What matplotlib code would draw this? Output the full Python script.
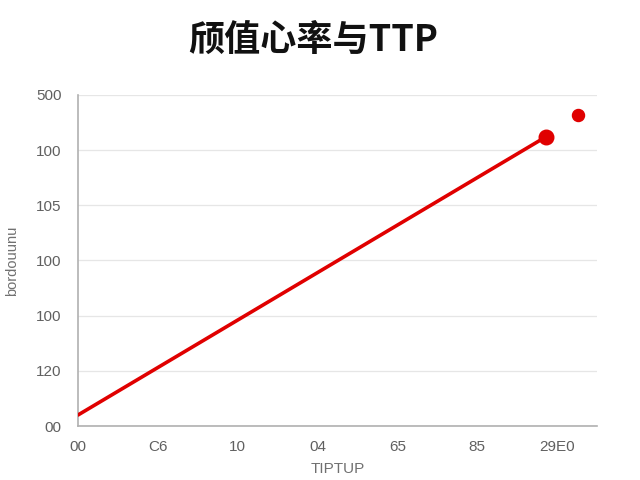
import matplotlib
matplotlib.use('Agg')
import matplotlib.pyplot as plt

plt.rcParams['font.family'] = ['Liberation Sans', 'Noto Sans CJK SC', 'DejaVu Sans']

# data (tick positions are in tick-index units)
x_tick_labels = ['00', 'C6', '10', '04', '65', '85', '29E0']
y_tick_labels = ['00', '120', '100', '100', '105', '100', '500']
line_x = [0.0, 5.86]
line_y = [0.2, 5.24]
extra_x = [6.26]
extra_y = [5.63]

RED = '#e00000'

fig = plt.figure(figsize=(6.4, 4.8), dpi=100)
ax = fig.add_axes([0.122, 0.1125, 0.811, 0.69])

ax.plot(line_x, line_y, color=RED, lw=2.6, solid_capstyle='round', zorder=3)
ax.scatter([line_x[-1]], [line_y[-1]], s=110, color=RED, zorder=4)
ax.scatter(extra_x, extra_y, s=75, color=RED, zorder=4)

ax.set_xlim(0, 6.5)
ax.set_ylim(0, 6)
ax.set_xticks(range(len(x_tick_labels)))
ax.set_xticklabels(x_tick_labels)
ax.set_yticks(range(len(y_tick_labels)))
ax.set_yticklabels(y_tick_labels)

ax.grid(axis='y', color='#e6e6e6', lw=0.9)
ax.set_axisbelow(True)
for s in ['top', 'right']:
    ax.spines[s].set_visible(False)
for s in ['left', 'bottom']:
    ax.spines[s].set_color('#b0b0b0')
    ax.spines[s].set_linewidth(1.2)
ax.tick_params(axis='x', length=0, pad=10, labelsize=11, labelcolor='#606060')
ax.tick_params(axis='y', length=0, pad=12, labelsize=11, labelcolor='#606060')

ax.set_xlabel('TIPTUP', fontsize=11, color='#707070', labelpad=6)
ax.set_ylabel('bordouunu', fontsize=10.5, color='#707070', labelpad=12)

fig.text(0.49, 0.915, '颀值心率与TTP', ha='center', va='center',
         fontsize=26, fontweight='bold', color='#111111',
         family=['Noto Sans CJK SC', 'DejaVu Sans'])

fig.savefig('out.png', dpi=100, facecolor='white')
